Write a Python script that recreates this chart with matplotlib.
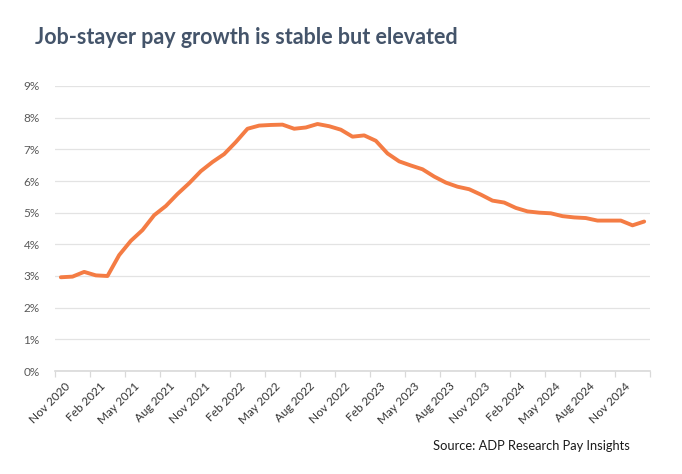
import matplotlib
matplotlib.use('Agg')
import matplotlib.pyplot as plt
from matplotlib.ticker import FixedLocator, FuncFormatter

# Monthly data, Nov 2020 - Jan 2025 (job-stayer pay growth, %)
months = ['Nov 2020', 'Dec 2020',
          'Jan 2021', 'Feb 2021', 'Mar 2021', 'Apr 2021', 'May 2021', 'Jun 2021',
          'Jul 2021', 'Aug 2021', 'Sep 2021', 'Oct 2021', 'Nov 2021', 'Dec 2021',
          'Jan 2022', 'Feb 2022', 'Mar 2022', 'Apr 2022', 'May 2022', 'Jun 2022',
          'Jul 2022', 'Aug 2022', 'Sep 2022', 'Oct 2022', 'Nov 2022', 'Dec 2022',
          'Jan 2023', 'Feb 2023', 'Mar 2023', 'Apr 2023', 'May 2023', 'Jun 2023',
          'Jul 2023', 'Aug 2023', 'Sep 2023', 'Oct 2023', 'Nov 2023', 'Dec 2023',
          'Jan 2024', 'Feb 2024', 'Mar 2024', 'Apr 2024', 'May 2024', 'Jun 2024',
          'Jul 2024', 'Aug 2024', 'Sep 2024', 'Oct 2024', 'Nov 2024', 'Dec 2024',
          'Jan 2025']
pay_growth = [2.96, 2.98,
              3.13, 3.02, 3.00, 3.66, 4.11, 4.45, 4.92, 5.21, 5.59, 5.93, 6.31, 6.60,
              6.85, 7.23, 7.65, 7.75, 7.77, 7.78, 7.65, 7.69, 7.80, 7.73, 7.62, 7.40,
              7.44, 7.27, 6.87, 6.62, 6.49, 6.37, 6.14, 5.95, 5.82, 5.74, 5.57, 5.38,
              5.32, 5.15, 5.04, 5.00, 4.98, 4.89, 4.85, 4.83, 4.75, 4.75, 4.75, 4.60,
              4.72]

plt.rcParams['font.family'] = ['Lato', 'DejaVu Sans']

fig = plt.figure(figsize=(6.82, 4.74), dpi=100)
ax = fig.add_axes([55 / 682, 1 - 371 / 474, 595 / 682, 285 / 474])

x = list(range(len(months)))
ax.plot(x, pay_growth, color='#F47C44', linewidth=2.8, solid_joinstyle='round',
        solid_capstyle='round', zorder=3)

ax.set_xlim(-0.5, len(months) - 0.5)
ax.set_ylim(0, 9)

# y axis: gridlines, percent labels, no ticks
ax.set_yticks(range(0, 10))
ax.yaxis.set_major_formatter(FuncFormatter(lambda v, p: f'{int(v)}%'))
ax.tick_params(axis='y', length=0, pad=11, labelsize=8.5, labelcolor='#595959')
ax.grid(axis='y', color='#E3E3E3', linewidth=0.9, zorder=0)

# x axis: tick marks between categories, label every 3rd month
ax.xaxis.set_major_locator(FixedLocator([i - 0.5 for i in range(0, len(months) + 1, 3)]))
ax.xaxis.set_major_formatter(FuncFormatter(lambda v, p: ''))
ax.tick_params(axis='x', length=4, width=0.9, color='#D9D9D9', direction='out')
for i in range(0, len(months), 3):
    ax.text(i + 0.3, -0.3, months[i], rotation=45, ha='right', va='top',
            rotation_mode='anchor', fontsize=8.5, color='#333333')

for s in ['top', 'right', 'left']:
    ax.spines[s].set_visible(False)
ax.spines['bottom'].set_color('#D9D9D9')
ax.spines['bottom'].set_linewidth(1.2)

fig.text(35 / 682, 1 - 37 / 474, 'Job-stayer pay growth is stable but elevated',
         fontsize=15.5, fontweight='bold', color='#44546A', va='center', ha='left')
fig.text(630 / 682, 1 - 446 / 474, 'Source: ADP Research Pay Insights',
         fontsize=9.3, color='#1a1a1a', va='center', ha='right')

fig.savefig('out.png', dpi=100)
